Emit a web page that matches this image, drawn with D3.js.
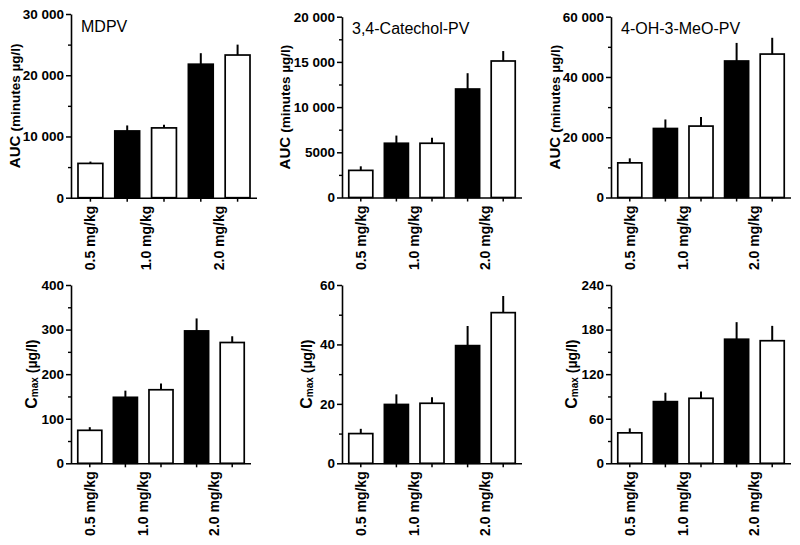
<!DOCTYPE html>
<html>
<head>
<meta charset="utf-8">
<script src="https://cdn.jsdelivr.net/npm/d3@7"></script>
<style>
  html, body { margin: 0; padding: 0; background: #fff; }
  svg { display: block; font-family: Arial, "Liberation Sans", sans-serif; }
  text { white-space: pre; }
</style>
</head>
<body>
<svg id="chart" width="800" height="545"></svg>
<script>
// ---------------- DATA ----------------
const bars = ["b1", "b2", "b3", "b4", "b5"];
const doseOfBar = ["0.5 mg/kg", "1.0 mg/kg", "1.0 mg/kg", "2.0 mg/kg", "2.0 mg/kg"];
const groupOfBar = ["open", "filled", "open", "filled", "open"];

const compounds = ["MDPV", "3,4-Catechol-PV", "4-OH-3-MeO-PV"];

// AUC (minutes µg/l): means and SEM (upward error)
const aucMDPV      = [5600, 10900, 11400, 21800, 23300];
const aucMDPVErr   = [300, 900, 500, 1800, 1700];
const aucCat       = [3000, 6000, 6000, 12000, 15100];
const aucCatErr    = [450, 850, 600, 1750, 1100];
const aucOHMeO     = [11500, 22900, 23700, 45300, 47600];
const aucOHMeOErr  = [1500, 3000, 3000, 6000, 5400];

// Cmax (µg/l)
const cmaxMDPV     = [74, 148, 165, 297, 271];
const cmaxMDPVErr  = [7, 15, 14, 28, 14];
const cmaxCat      = [10, 19.8, 20.2, 39.6, 50.7];
const cmaxCatErr   = [1.6, 3.4, 2, 6.6, 5.6];
const cmaxOHMeO    = [41, 83, 87.5, 167, 165];
const cmaxOHMeOErr = [6, 12, 9, 23, 20];

// Axis ticks
const ticksAucMDPV   = [0, 10000, 20000, 30000];
const labelsAucMDPV  = ["0", "10 000", "20 000", "30 000"];
const ticksAucCat    = [0, 5000, 10000, 15000, 20000];
const labelsAucCat   = ["0", "5000", "10 000", "15 000", "20 000"];
const ticksAucOHMeO  = [0, 20000, 40000, 60000];
const labelsAucOHMeO = ["0", "20 000", "40 000", "60 000"];
const ticksCmaxMDPV  = [0, 100, 200, 300, 400];
const ticksCmaxCat   = [0, 20, 40, 60];
const ticksCmaxOHMeO = [0, 60, 120, 180, 240];

// ---------------- STYLE / LAYOUT ----------------
const fillOf = { open: "#ffffff", filled: "#000000" };

const panels = [
  { title: compounds[0], vals: aucMDPV, err: aucMDPVErr, ticks: ticksAucMDPV, labels: labelsAucMDPV, kind: "auc",
    ax: 71, len: 186, yTop: 14, yBot: 197.7, labX: 15 },
  { title: compounds[1], vals: aucCat, err: aucCatErr, ticks: ticksAucCat, labels: labelsAucCat, kind: "auc",
    ax: 342, len: 180, yTop: 16.7, yBot: 197.5, labX: 285 },
  { title: compounds[2], vals: aucOHMeO, err: aucOHMeOErr, ticks: ticksAucOHMeO, labels: labelsAucOHMeO, kind: "auc",
    ax: 611, len: 180, yTop: 16.7, yBot: 197.5, labX: 555 },
  { title: null, vals: cmaxMDPV, err: cmaxMDPVErr, ticks: ticksCmaxMDPV, labels: ticksCmaxMDPV.map(String), kind: "cmax",
    ax: 71, len: 180, yTop: 285, yBot: 463.3, labX: 32 },
  { title: null, vals: cmaxCat, err: cmaxCatErr, ticks: ticksCmaxCat, labels: ticksCmaxCat.map(String), kind: "cmax",
    ax: 342, len: 180, yTop: 285, yBot: 463.3, labX: 307 },
  { title: null, vals: cmaxOHMeO, err: cmaxOHMeOErr, ticks: ticksCmaxOHMeO, labels: ticksCmaxOHMeO.map(String), kind: "cmax",
    ax: 611, len: 180, yTop: 285, yBot: 463.3, labX: 572 }
];

const svg = d3.select("#chart");
svg.append("rect").attr("width", 800).attr("height", 545).attr("fill", "#fff");

panels.forEach(p => {
  const g = svg.append("g");
  const yMax = p.ticks[p.ticks.length - 1];
  const y = d3.scaleLinear().domain([0, yMax]).range([p.yBot, p.yTop]);
  const x = d3.scaleBand().domain(bars).range([p.ax, p.ax + p.len])
    .paddingInner(0.325).paddingOuter(0.19);

  // minor ticks (midpoints)
  const step = p.ticks[1] - p.ticks[0];
  const minors = p.ticks.slice(0, -1).map(t => t + step / 2);
  const minorAxis = g.append("g").attr("transform", `translate(${p.ax},0)`)
    .call(d3.axisLeft(y).tickValues(minors).tickSize(3).tickFormat(""));
  minorAxis.select(".domain").remove();
  minorAxis.selectAll("line").attr("stroke", "#000").attr("stroke-width", 1.4);

  // y axis
  const yAxis = g.append("g").attr("transform", `translate(${p.ax},0)`)
    .call(d3.axisLeft(y).tickValues(p.ticks).tickSize(5).tickSizeOuter(0).tickPadding(2)
      .tickFormat((d, i) => p.labels[i]));
  yAxis.select(".domain").attr("stroke", "#000").attr("stroke-width", 1.6);
  yAxis.selectAll("line").attr("stroke", "#000").attr("stroke-width", 1.5);
  yAxis.selectAll("text").attr("fill", "#000").attr("font-size", "13.5px").attr("font-weight", "bold")
    .attr("font-family", "Arial, 'Liberation Sans', sans-serif");

  // x axis
  const xAxis = g.append("g").attr("transform", `translate(0,${p.yBot})`)
    .call(d3.axisBottom(x).tickSize(4).tickSizeOuter(0).tickFormat(""));
  xAxis.select(".domain").attr("stroke", "#000").attr("stroke-width", 1.6)
    .attr("d", `M${p.ax},0.5H${p.ax + p.len}`);
  xAxis.selectAll("line").attr("stroke", "#000").attr("stroke-width", 1.5);

  // error bars (upward)
  g.selectAll(".err").data(bars).enter().append("line")
    .attr("x1", d => x(d) + x.bandwidth() / 2)
    .attr("x2", d => x(d) + x.bandwidth() / 2)
    .attr("y1", (d, i) => y(p.vals[i]))
    .attr("y2", (d, i) => y(p.vals[i] + p.err[i]))
    .attr("stroke", "#000").attr("stroke-width", 2);

  // bars
  g.selectAll(".bar").data(bars).enter().append("rect")
    .attr("x", d => x(d))
    .attr("width", x.bandwidth())
    .attr("y", (d, i) => y(p.vals[i]))
    .attr("height", (d, i) => y(0) - y(p.vals[i]))
    .attr("fill", (d, i) => fillOf[groupOfBar[i]])
    .attr("stroke", "#000").attr("stroke-width", 1.7);

  // dose labels, centred on the bars of each dose
  const doses = Array.from(new Set(doseOfBar));
  doses.forEach(dose => {
    const centers = bars.filter((b, i) => doseOfBar[i] === dose).map(b => x(b) + x.bandwidth() / 2);
    const cx = d3.mean(centers);
    g.append("text")
      .attr("transform", `translate(${cx},${p.yBot + 8}) rotate(-90)`)
      .attr("text-anchor", "end").attr("dy", "0.36em")
      .attr("font-size", "14px").attr("font-weight", "bold").attr("fill", "#000")
      .text(dose);
  });

  // y label
  const cy = (p.yTop + p.yBot) / 2;
  const lab = g.append("text")
    .attr("transform", `translate(${p.labX + 5},${cy}) rotate(-90)`)
    .attr("text-anchor", "middle")
    .attr("font-weight", "bold").attr("fill", "#000");
  if (p.kind === "auc") {
    lab.append("tspan").attr("font-size", "15px").text("AUC\u00a0");
    lab.append("tspan").attr("font-size", "13.5px").text("(minutes µg/l)");
  } else {
    lab.append("tspan").attr("font-size", "16px").text("C");
    lab.append("tspan").attr("font-size", "10px").attr("dy", "1").text("max");
    lab.append("tspan").attr("font-size", "14px").attr("dy", "-1").text("\u00a0(µg/l)");
  }

  // title
  if (p.title) {
    g.append("text").attr("x", p.ax + 10).attr("y", p.yTop + 17.5)
      .attr("font-size", "16px").attr("fill", "#000").text(p.title);
  }
});
</script>
</body>
</html>
